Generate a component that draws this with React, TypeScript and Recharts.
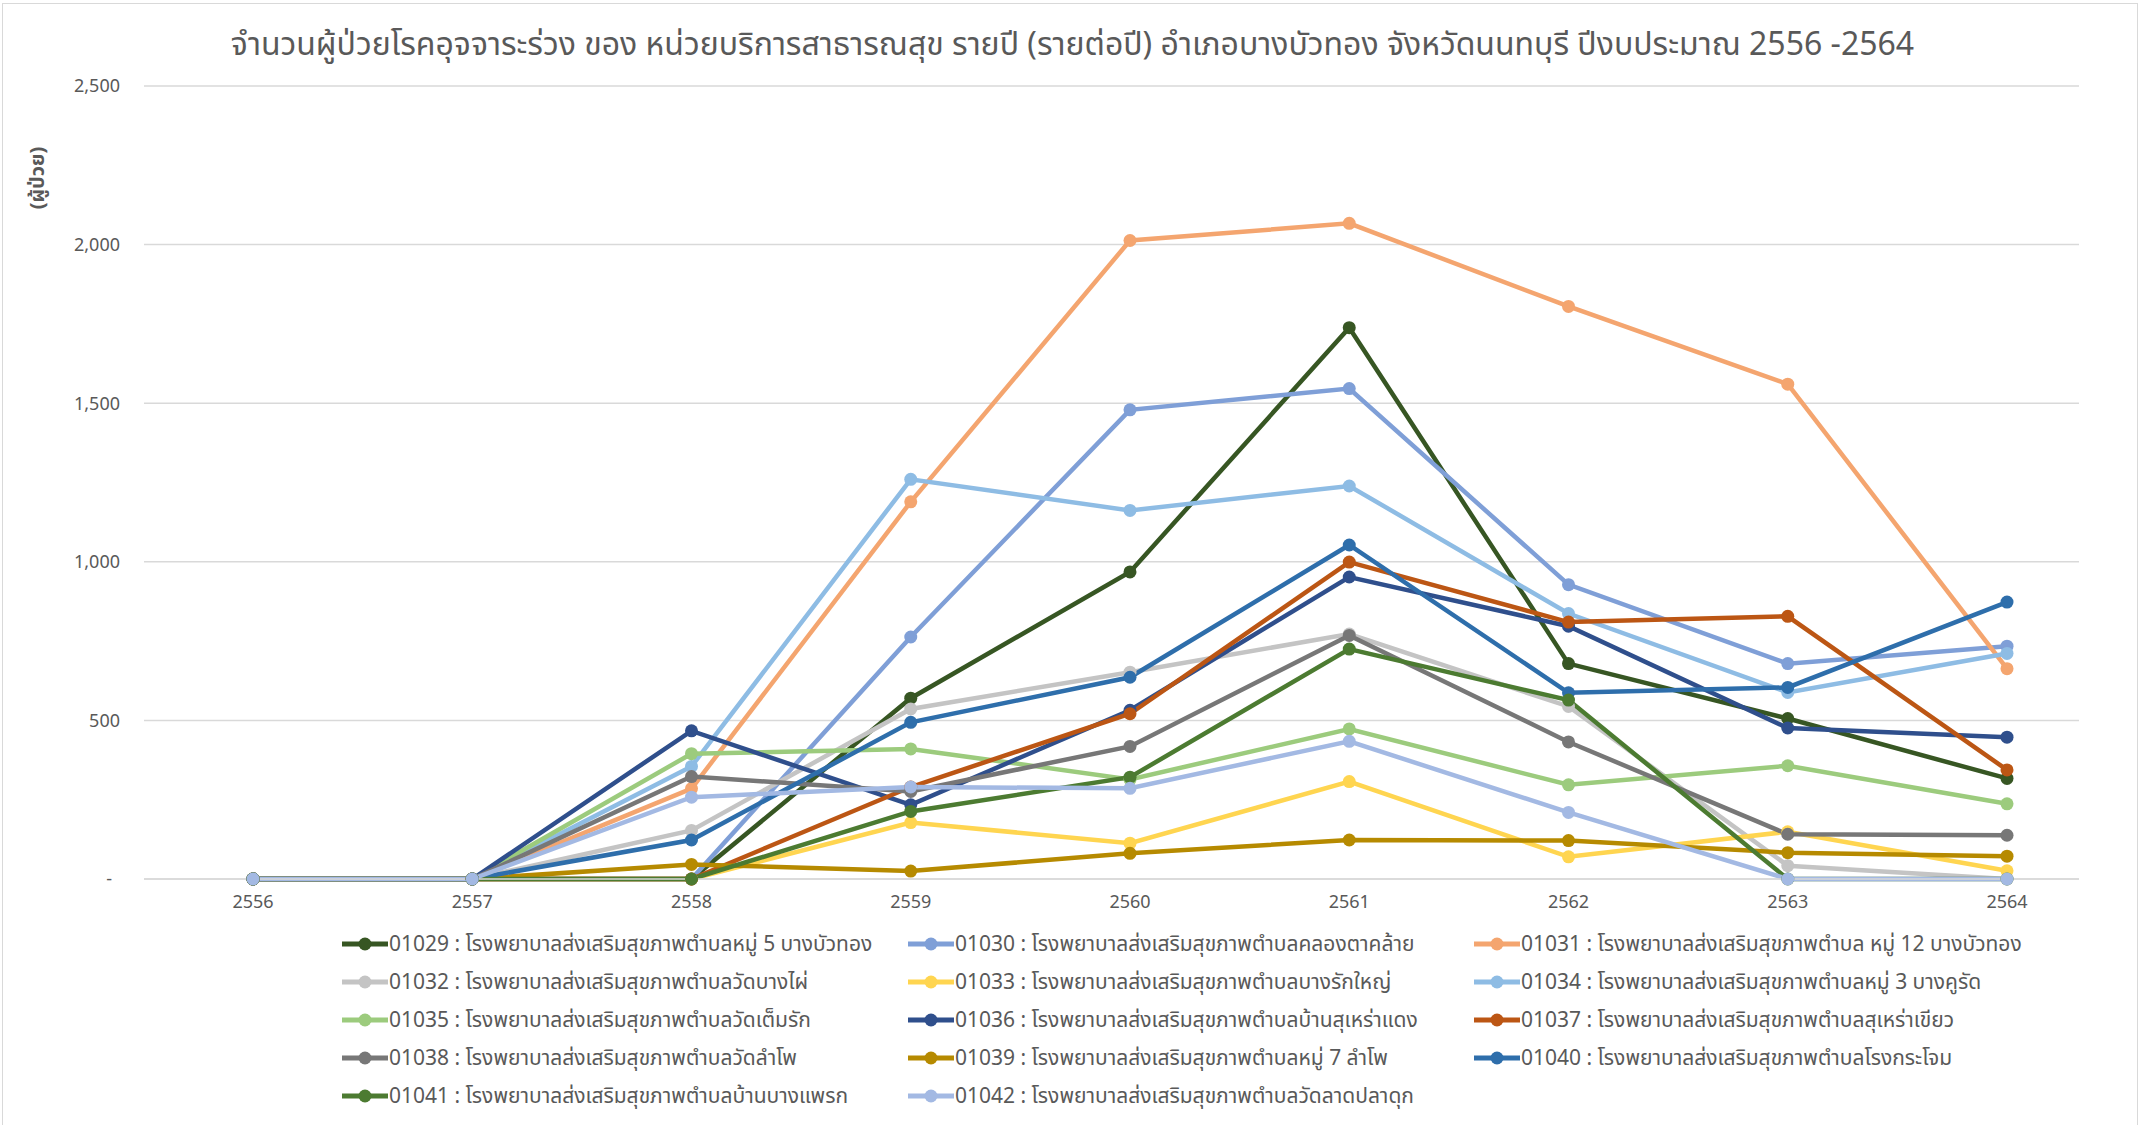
import React from 'react';
import { LineChart, Line, XAxis, YAxis, CartesianGrid, Legend } from 'recharts';

// ปีงบประมาณ
const years = ['2556', '2557', '2558', '2559', '2560', '2561', '2562', '2563', '2564'];

// จำนวนผู้ป่วย รายปี (อ่านจากกราฟ)
const h01029 = [0, 0, 0, 570, 968, 1738, 679, 506, 317];
const h01030 = [0, 0, 0, 763, 1479, 1546, 928, 679, 734];
const h01031 = [0, 0, 285, 1189, 2013, 2067, 1805, 1560, 663];
const h01032 = [0, 0, 153, 536, 652, 772, 544, 42, 0];
const h01033 = [0, 0, 0, 178, 113, 307, 70, 149, 26];
const h01034 = [0, 0, 355, 1260, 1162, 1239, 837, 588, 711];
const h01035 = [0, 0, 395, 410, 314, 473, 297, 357, 237];
const h01036 = [0, 0, 467, 234, 532, 952, 797, 476, 447];
const h01037 = [0, 0, 0, 290, 521, 999, 810, 828, 344];
const h01038 = [0, 0, 323, 276, 418, 768, 432, 141, 138];
const h01039 = [0, 0, 46, 25, 81, 123, 121, 83, 72];
const h01040 = [0, 0, 123, 494, 636, 1053, 587, 604, 873];
const h01041 = [0, 0, 0, 213, 321, 725, 564, 0, 0];
const h01042 = [0, 0, 258, 290, 286, 434, 210, 0, 0];

const yTicks = [0, 500, 1000, 1500, 2000, 2500];

const series = [
    { name: '01029 : โรงพยาบาลส่งเสริมสุขภาพตำบลหมู่ 5 บางบัวทอง', color: '#375623', values: h01029 },
    { name: '01030 : โรงพยาบาลส่งเสริมสุขภาพตำบลคลองตาคล้าย', color: '#7F9FD7', values: h01030 },
    { name: '01031 : โรงพยาบาลส่งเสริมสุขภาพตำบล หมู่ 12 บางบัวทอง', color: '#F4A56F', values: h01031 },
    { name: '01032 : โรงพยาบาลส่งเสริมสุขภาพตำบลวัดบางไผ่', color: '#C4C4C4', values: h01032 },
    { name: '01033 : โรงพยาบาลส่งเสริมสุขภาพตำบลบางรักใหญ่', color: '#FFD550', values: h01033 },
    { name: '01034 : โรงพยาบาลส่งเสริมสุขภาพตำบลหมู่ 3 บางคูรัด', color: '#8EBCE4', values: h01034 },
    { name: '01035 : โรงพยาบาลส่งเสริมสุขภาพตำบลวัดเต็มรัก', color: '#9CCB7D', values: h01035 },
    { name: '01036 : โรงพยาบาลส่งเสริมสุขภาพตำบลบ้านสุเหร่าแดง', color: '#2F4F8C', values: h01036 },
    { name: '01037 : โรงพยาบาลส่งเสริมสุขภาพตำบลสุเหร่าเขียว', color: '#BC5614', values: h01037 },
    { name: '01038 : โรงพยาบาลส่งเสริมสุขภาพตำบลวัดลำโพ', color: '#777777', values: h01038 },
    { name: '01039 : โรงพยาบาลส่งเสริมสุขภาพตำบลหมู่ 7 ลำโพ', color: '#B68A00', values: h01039 },
    { name: '01040 : โรงพยาบาลส่งเสริมสุขภาพตำบลโรงกระโจม', color: '#2E6EAB', values: h01040 },
    { name: '01041 : โรงพยาบาลส่งเสริมสุขภาพตำบลบ้านบางแพรก', color: '#4C7B31', values: h01041 },
    { name: '01042 : โรงพยาบาลส่งเสริมสุขภาพตำบลวัดลาดปลาดุก', color: '#A3B9E3', values: h01042 },
];

const data = years.map((year, i) => {
    const row: any = { year };
    series.forEach((s, k) => {
        row['s' + k] = s.values[i];
    });
    return row;
});

const FONT = '"Noto Sans", "Noto Sans Thai", Tahoma, "DejaVu Sans", sans-serif';
const TEXT = '#595959';
const GRID = '#d9d9d9';

const YTick = ({ x, y, payload }: any) => {
    const v = payload.value;
    return (
        <text x={v === 0 ? x - 8 : x} y={y} dy="0.35em" textAnchor="end" fill={TEXT} fontSize={18} fontFamily={FONT}>
            {v === 0 ? '-' : v.toLocaleString('en-US')}
        </text>
    );
};

const LegendGrid = ({ payload }: any) => (
    <div style={{ display: 'grid', gridTemplateColumns: 'repeat(3, 566px)', paddingLeft: 341, textAlign: 'left' }}>
        {(payload || []).map((entry: any) => (
            <div key={entry.value} style={{ display: 'flex', alignItems: 'center', height: 38 }}>
                <svg width={48} height={14} style={{ flex: 'none' }}>
                    <line x1={1} y1={7} x2={47} y2={7} stroke={entry.color} strokeWidth={5} />
                    <circle cx={24} cy={7} r={6.5} fill={entry.color} />
                </svg>
                <span style={{ fontSize: 21, color: TEXT, fontFamily: FONT, whiteSpace: 'nowrap' }}>{entry.value}</span>
            </div>
        ))}
    </div>
);

export default function App() {
    return (
        <div style={{ position: 'absolute', left: 0, top: 0, width: 2145, height: 1125, background: '#fff', overflow: 'hidden', fontFamily: FONT }}>
            <div style={{ position: 'absolute', left: 2, top: 3, width: 2136, height: 1130, border: '1px solid #d9d9d9', boxSizing: 'border-box' }} />
            <div style={{ position: 'absolute', left: 0, width: 2145, top: 22, textAlign: 'center', fontSize: 32, color: TEXT, lineHeight: '42px' }}>
                จำนวนผู้ป่วยโรคอุจจาระร่วง ของ หน่วยบริการสาธารณสุข รายปี (รายต่อปี) อำเภอบางบัวทอง จังหวัดนนทบุรี ปีงบประมาณ 2556 -2564
            </div>
            <div style={{ position: 'absolute', left: 38, top: 178, transform: 'translate(-50%, -50%) rotate(-90deg)', fontSize: 20, fontWeight: 'bold', color: TEXT, whiteSpace: 'nowrap' }}>
                (ผู้ป่วย)
            </div>
            <LineChart width={2145} height={1125} data={data} margin={{ top: 86, right: 66, left: 0, bottom: 206 }} style={{ position: 'absolute', left: 0, top: 0 }}>
                <CartesianGrid vertical={false} stroke={GRID} strokeWidth={1.5} />
                <XAxis
                    dataKey="year"
                    padding={{ left: 109, right: 72 }}
                    axisLine={{ stroke: GRID, strokeWidth: 1.5 }}
                    tickLine={false}
                    tickSize={0}
                    tickMargin={16}
                    height={40}
                    tick={{ fill: TEXT, fontSize: 18, fontFamily: FONT }}
                />
                <YAxis
                    width={144}
                    domain={[0, 2500]}
                    ticks={yTicks}
                    axisLine={false}
                    tickLine={false}
                    tickSize={0}
                    tickMargin={24}
                    tick={<YTick />}
                />
                <Legend
                    layout="horizontal"
                    verticalAlign="middle"
                    align="center"
                    wrapperStyle={{ top: 925, left: 0, width: 2145, height: 200 }}
                    content={<LegendGrid />}
                />
                {series.map((s, k) => (
                    <Line
                        key={s.name}
                        type="linear"
                        dataKey={'s' + k}
                        name={s.name}
                        stroke={s.color}
                        strokeWidth={4.5}
                        dot={{ r: 6.5, fill: s.color, stroke: s.color, strokeWidth: 0 }}
                        activeDot={false}
                        isAnimationActive={false}
                    />
                ))}
            </LineChart>
        </div>
    );
}
